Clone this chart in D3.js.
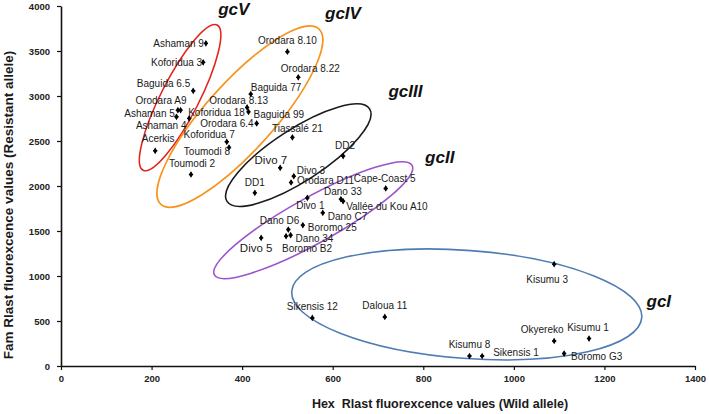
<!DOCTYPE html>
<html>
<head>
<meta charset="utf-8">
<script src="https://cdn.jsdelivr.net/npm/d3@7"></script>
<style>
  html, body { margin: 0; padding: 0; background: #fff; }
  svg { display: block; }
  text { font-family: "Liberation Sans", Arial, sans-serif; }
</style>
</head>
<body>
<svg id="chart" width="709" height="414"></svg>
<script>
// ---------------- data ----------------
const names = [
  "Ashaman 9", "Koforidua 3", "Baguida 6.5", "Orodara A9", "Ashaman 5", "Ashaman 4",
  "Koforidua 18", "Acerkis",
  "Orodara 8.10", "Orodara 8.22", "Baguida 77", "Orodara 8.13", "Baguida 99", "Orodara 6.4",
  "Koforidua 7", "Toumodi 8", "Toumodi 2",
  "Tiassalé 21", "DD2", "Divo 7", "Divo 3", "Orodara D11", "DD1",
  "Cape-Coast 5", "Dano 33", "Vallée du Kou A10", "Divo 1", "Dano C7", "Dano D6", "Boromo 25",
  "Dano 34", "Boromo B2", "Divo 5",
  "Kisumu 3", "Sikensis 12", "Daloua 11", "Okyereko", "Kisumu 1", "Kisumu 8", "Sikensis 1", "Boromo G3"
];
const hexValues = [
  320, 314, 292, 264, 258, 255,
  283, 208,
  500, 524, 419, 411, 414, 432,
  366, 371, 287,
  511, 623, 484, 514, 508, 428,
  717, 618, 623, 544, 578, 502, 534,
  507, 497, 442,
  1089, 555, 715, 1089, 1166, 902, 930, 1111
];
const famValues = [
  3585, 3374, 3058, 2843, 2843, 2769,
  2751, 2391,
  3492, 3207, 3021, 2873, 2824, 2695,
  2491, 2428, 2128,
  2540, 2332, 2202, 2109, 2039, 1924,
  1973, 1854, 1831, 1868, 1702, 1516, 1565,
  1454, 1442, 1424,
  1131, 534, 545, 278, 305, 111, 111, 138
];
const xTicks = [0, 200, 400, 600, 800, 1000, 1200, 1400];
const yTicks = [0, 500, 1000, 1500, 2000, 2500, 3000, 3500, 4000];
const groupNames = ["gcV", "gcIV", "gcIII", "gcII", "gcI"];
const xTitle = "Hex\u00a0 Rlast fluorexcence values (Wild allele)";
const yTitle = "Fam Rlast fluorexcence values (Resistant allele)";

// ---------------- layout (annotation placement, not data) ----------------
// label placement per point: [anchor, dx, dy, fontSize]
const labelLayout = [
  ["end", -2, 0, 10], ["end", -1, 0, 10], ["end", -3, -7, 10], ["end", 6, -10, 10], ["end", -3, 3, 10], ["end", 10, 9, 10],
  ["start", -1, -6, 10], ["middle", 3, -12, 10],
  ["middle", 0, -11, 10], ["middle", 12, -9, 10], ["start", 0, -7, 10], ["end", 21, -7, 10], ["start", 5, 3, 10], ["end", -3, 0, 10],
  ["end", 8, -7, 10], ["end", 1, 4, 10], ["middle", 1, -11, 10],
  ["middle", 5, -9, 10], ["middle", 2, -11, 10], ["end", 7, -8, 11.5], ["start", 3, -6, 10], ["start", 6, -2, 10], ["middle", 0, -10, 10],
  ["middle", -1, -10, 10], ["middle", 2, -8, 10], ["start", 3, 5, 10], ["middle", 3, 8, 10], ["start", 5, 4, 10], ["end", 11, -9, 10], ["start", 5, 2, 10],
  ["start", 5, 3, 10], ["middle", 21, 12, 10], ["middle", -5, 10, 11.5],
  ["middle", -7, 15, 10], ["middle", 0, -11, 10], ["middle", 0, -11, 10], ["middle", -12, -11, 10], ["middle", -1, -11, 10], ["middle", 0, -12, 10], ["start", 11, -4, 10], ["start", 7, 3, 10]
];
// ellipses: centre (data units), semi-axes (px), rotation (deg), colour
const ellipseLayout = [
  { cx: 263, cy: 2982, rx: 81.5, ry: 19, rot: -63, color: "#e2231a" },
  { cx: 395, cy: 2771, rx: 118, ry: 34, rot: -48, color: "#f7941d" },
  { cx: 524, cy: 2343, rx: 85, ry: 26, rot: -33, color: "#1a1a1a" },
  { cx: 557, cy: 1620, rx: 113, ry: 23, rot: -29, color: "#9b55c9" },
  { cx: 896, cy: 684, rx: 175.5, ry: 54, rot: 4.3, color: "#4f7db3" }
];
// group label anchor (data units)
const groupLabelLayout = [
  { x: 347, y: 3900 }, { x: 583, y: 3852 }, { x: 723, y: 2985 }, { x: 804, y: 2251 }, { x: 1293, y: 656 }
];

// ---------------- drawing ----------------
const svg = d3.select("#chart");
const x = d3.scaleLinear().domain([0, 1400]).range([61, 695]);
const y = d3.scaleLinear().domain([0, 4000]).range([366, 6]);

// ellipses
svg.append("g").selectAll("ellipse").data(ellipseLayout).join("ellipse")
  .attr("cx", 0).attr("cy", 0)
  .attr("rx", d => d.rx).attr("ry", d => d.ry)
  .attr("transform", d => `translate(${x(d.cx)},${y(d.cy)}) rotate(${d.rot})`)
  .attr("fill", "none").attr("stroke", d => d.color).attr("stroke-width", 1.6);

// axes
const fmt = d3.format("d");
const xAxis = svg.append("g").attr("transform", `translate(0,${y(0)})`)
  .call(d3.axisBottom(x).tickValues(xTicks).tickFormat(fmt).tickSize(4).tickSizeOuter(0).tickPadding(5));
const yAxis = svg.append("g").attr("transform", `translate(${x(0)},0)`)
  .call(d3.axisLeft(y).tickValues(yTicks).tickFormat(fmt).tickSize(4).tickSizeOuter(0).tickPadding(7));
[xAxis, yAxis].forEach(g => {
  g.select(".domain").attr("stroke", "#111").attr("stroke-width", 1.6);
  g.selectAll(".tick line").attr("stroke", "#111").attr("stroke-width", 1.2);
  g.selectAll(".tick text")
    .attr("font-family", "Liberation Sans, Arial, sans-serif")
    .attr("font-size", 9.5).attr("font-weight", "bold").attr("fill", "#222");
});

// axis titles
svg.append("text").attr("x", 440).attr("y", 408)
  .attr("text-anchor", "middle").attr("font-size", 12.5).attr("font-weight", "bold")
  .attr("fill", "#1a1a1a").text(xTitle);
svg.append("text").attr("transform", "translate(12.5,205) rotate(-90)")
  .attr("text-anchor", "middle").attr("font-size", 13.5).attr("font-weight", "bold")
  .attr("fill", "#1a1a1a").text(yTitle);

// points
const pts = names.map((n, i) => ({ name: n, hx: hexValues[i], fm: famValues[i], lay: labelLayout[i] }));
const marker = d3.symbol().type(d3.symbolDiamond).size(13);
const cross = d3.symbol().type(d3.symbolCross).size(10);
const pg = svg.append("g");
pg.selectAll("path.m").data(pts).join("path").attr("class", "m")
  .attr("d", marker).attr("transform", d => `translate(${x(d.hx)},${y(d.fm)})`).attr("fill", "#000");
pg.selectAll("path.c").data(pts).join("path").attr("class", "c")
  .attr("d", cross).attr("transform", d => `translate(${x(d.hx)},${y(d.fm)})`).attr("fill", "#000");

// data labels
svg.append("g").selectAll("text").data(pts).join("text")
  .attr("x", d => x(d.hx) + d.lay[1])
  .attr("y", d => y(d.fm) + d.lay[2] + d.lay[3] * 0.35)
  .attr("text-anchor", d => d.lay[0])
  .attr("font-size", d => d.lay[3])
  .attr("fill", "#1a1a1a")
  .text(d => d.name);

// group labels
svg.append("g").selectAll("text").data(groupNames).join("text")
  .attr("x", (d, i) => x(groupLabelLayout[i].x))
  .attr("y", (d, i) => y(groupLabelLayout[i].y))
  .attr("font-size", 17).attr("font-weight", "bold").attr("font-style", "italic")
  .attr("fill", "#111")
  .text(d => d);
</script>
</body>
</html>
